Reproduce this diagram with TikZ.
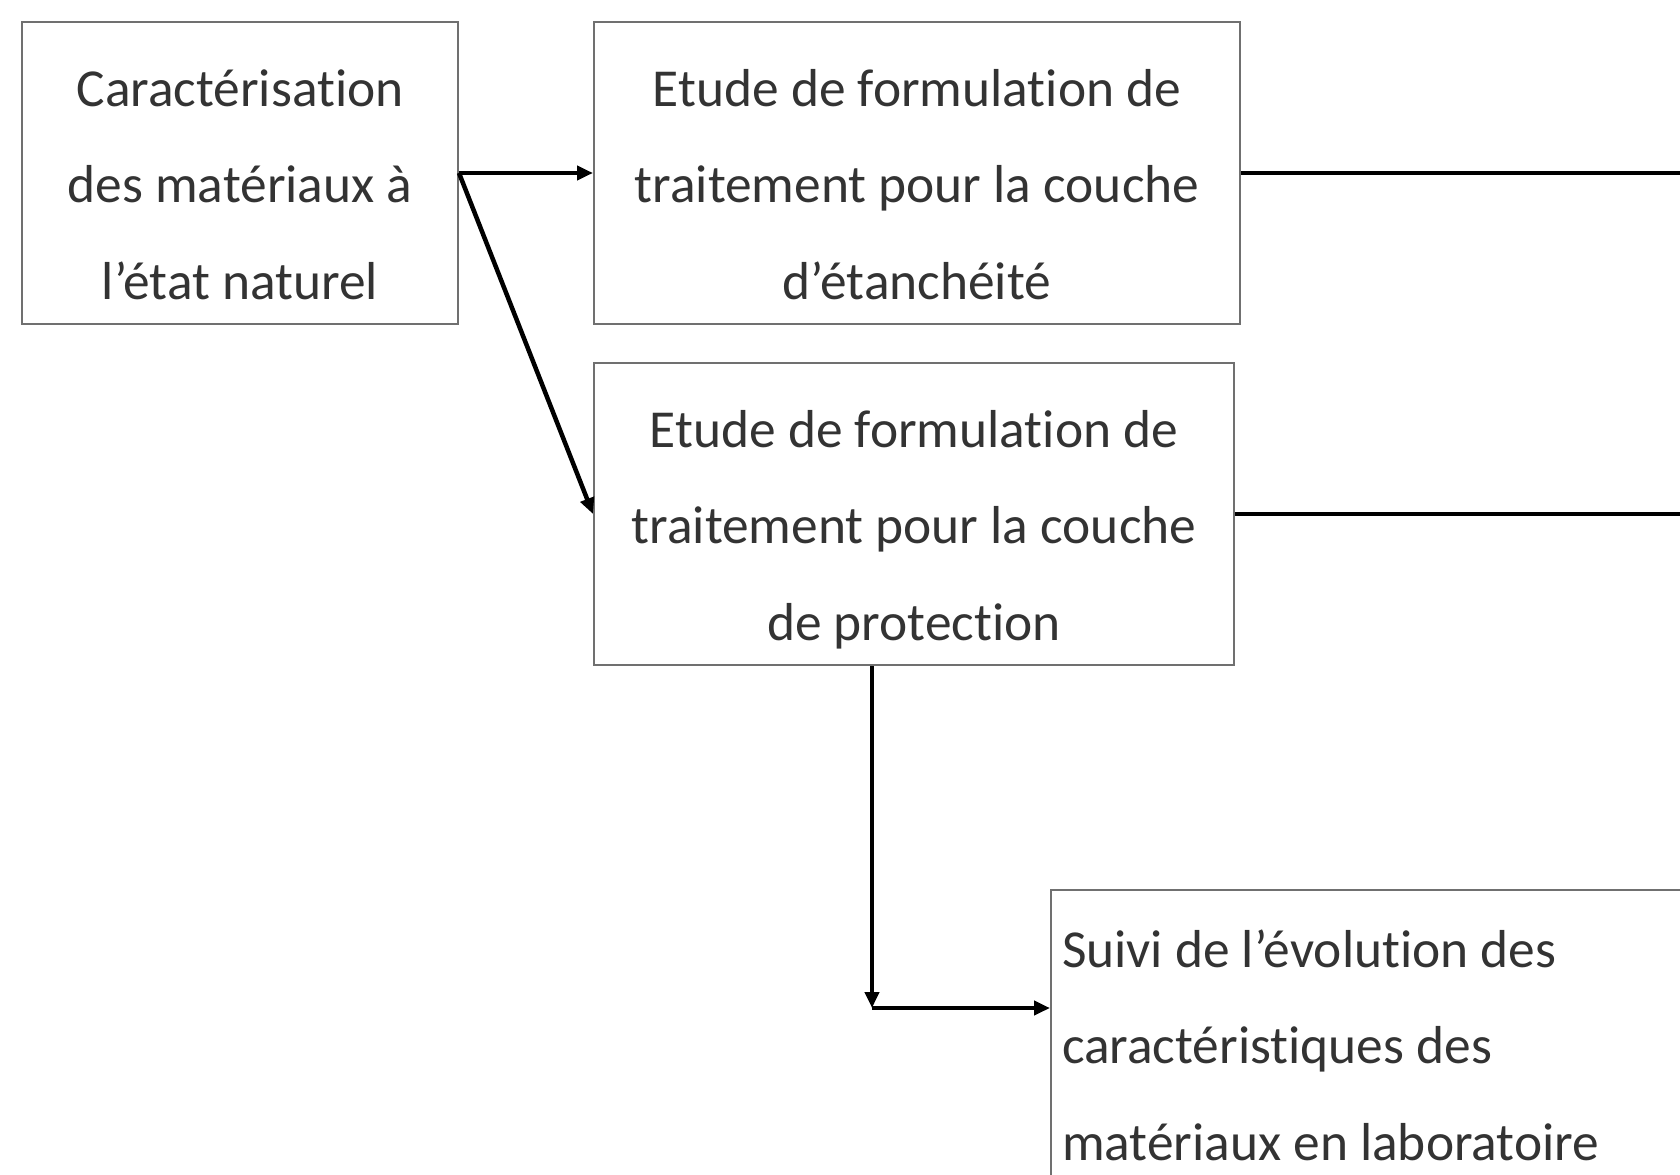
\documentclass[tikz,border=0pt]{standalone}
\usepackage{fontspec}
\setmainfont{Carlito}[Ligatures=NoCommon]
\usepackage{xcolor}
\usepackage{tikz}
\usetikzlibrary {arrows.meta,
                 positioning,
                 calc}
\definecolor{bordgris}{HTML}{707070}
\definecolor{textegris}{HTML}{333333}
\tikzset{
        base/.style={draw=bordgris, line width=0.02cm, text=textegris,
                     font=\fontsize{15.2pt}{27.4pt}\selectfont},
        etape/.style={base, rectangle, align=center, minimum height=3.02cm,
                      inner sep=0pt, text height=2.52cm, text depth=0pt},
        suivi/.style={base, rectangle, align=flush left, text width=7cm,
                      inner xsep=0.11cm, inner ysep=0.40cm},
        fleche/.style={-{Triangle[length=0.16cm, width=0.14cm]}, line width=0.045cm},
        trait/.style={line width=0.045cm},
 }
\begin{document}
\begin{tikzpicture}
    \useasboundingbox (0,0) rectangle (16.8,-11.75);
    \clip (0,0) rectangle (16.8,-11.75);

    \node[etape, minimum width=4.36cm, anchor=north west] (carac) at (0.21,-0.21)
         {Caractérisation\\des matériaux à\\l’état naturel};
    \node[etape, minimum width=6.46cm, right=1.34cm of carac] (etanch)
         {Etude de formulation de\\traitement pour la couche\\d’étanchéité};
    \node[etape, minimum width=6.40cm, below right=0.37cm and 0cm of etanch.south west] (protec)
         {Etude de formulation de\\traitement pour la couche\\de protection};
    \node[suivi, below right=2.23cm and 4.57cm of protec.south west] (labo)
         {Suivi de l’évolution des\\caractéristiques des\\matériaux en laboratoire\\[0.6cm]};

    \coordinate (bordD) at (16.9,0);
    \coordinate (coude) at ($(protec.south west)+(2.79,-3.42)$);

    \draw[fleche] (carac.east) -- (etanch.west);
    \draw[fleche] (carac.east) -- (protec.west);
    \draw[trait] (etanch.east) -- (etanch.east -| bordD);
    \draw[trait] (protec.east) -- (protec.east -| bordD);
    \draw[fleche] (coude |- protec.south) -- (coude);
    \draw[fleche] (coude) -- (coude -| labo.west);
\end{tikzpicture}
\end{document}
